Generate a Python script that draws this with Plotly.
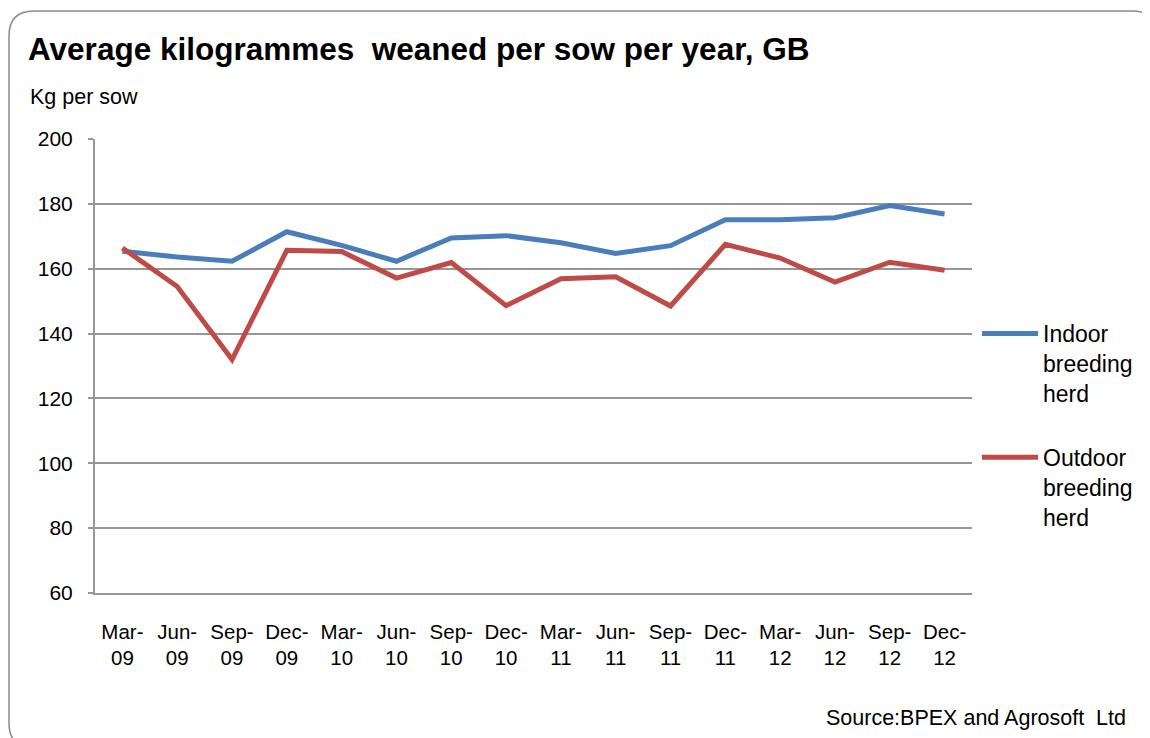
import plotly.graph_objects as go

categories = ["Mar-<br>09", "Jun-<br>09", "Sep-<br>09", "Dec-<br>09",
              "Mar-<br>10", "Jun-<br>10", "Sep-<br>10", "Dec-<br>10",
              "Mar-<br>11", "Jun-<br>11", "Sep-<br>11", "Dec-<br>11",
              "Mar-<br>12", "Jun-<br>12", "Sep-<br>12", "Dec-<br>12"]
indoor = [165.4, 163.6, 162.3, 171.4, 167.2, 162.3, 169.5, 170.2,
          168.0, 164.7, 167.1, 175.1, 175.1, 175.7, 179.5, 176.9]
outdoor = [166.4, 154.5, 132.0, 165.7, 165.3, 157.1, 161.9, 148.6,
           156.9, 157.5, 148.5, 167.5, 163.3, 155.9, 162.0, 159.5]
y_ticks = [60, 80, 100, 120, 140, 160, 180, 200]

W, H = 1150, 738
OFF = 8  # page body margin offset
# plot area in page pixels (target)
PL, PR, PT, PB = 95, 972, 139, 593
ML, MT = PL - OFF, PT - OFF
MR, MB = W - (PR - OFF), H - (PB - OFF)
PW, PH = PR - PL, PB - PT
FONT = "Liberation Sans, Arial, sans-serif"
GRAY = "#969696"


def px(x):
    """page x pixel -> paper fraction"""
    return (x - PL) / PW


def py(y):
    """page y pixel -> paper fraction"""
    return (PB - y) / PH


fig = go.Figure()
fig.add_trace(go.Scatter(x=categories, y=indoor, mode="lines",
                         name="Indoor<br>breeding<br>herd",
                         line=dict(color="#4A7EBB", width=5),
                         legendgroup="a"))
fig.add_trace(go.Scatter(x=categories, y=outdoor, mode="lines",
                         name="Outdoor<br>breeding<br>herd",
                         line=dict(color="#BE4B48", width=5),
                         legendgroup="b"))

# rounded outer frame (page pixels)
x0, x1, y0, y1, r = 9, 1157, 11, 748, 25
path = (f"M{px(x0)},{py(y0 + r)} "
        f"Q{px(x0)},{py(y0)} {px(x0 + r)},{py(y0)} "
        f"L{px(x1 - r)},{py(y0)} "
        f"Q{px(x1)},{py(y0)} {px(x1)},{py(y0 + r)} "
        f"L{px(x1)},{py(y1 - r)} "
        f"Q{px(x1)},{py(y1)} {px(x1 - r)},{py(y1)} "
        f"L{px(x0 + r)},{py(y1)} "
        f"Q{px(x0)},{py(y1)} {px(x0)},{py(y1 - r)} Z")
fig.add_shape(type="path", path=path, xref="paper", yref="paper",
              line=dict(color="#8a8a8a", width=1.5), layer="below")

fig.update_layout(
    width=W, height=H,
    margin=dict(l=ML, r=MR, t=MT, b=MB),
    paper_bgcolor="white", plot_bgcolor="white",
    font=dict(family=FONT, color="black", size=20),
    title=dict(text="<b>Average kilogrammes  weaned per sow per year, GB</b>",
               xref="container", yref="container",
               x=(28 - OFF) / W, y=1 - (49 - OFF) / H,
               xanchor="left", yanchor="middle",
               font=dict(family=FONT, size=31.5, color="black")),
    showlegend=True,
    legend=dict(x=px(977), y=py(312), xanchor="left", yanchor="top",
                valign="top", traceorder="grouped", tracegroupgap=31,
                itemwidth=56, font=dict(family=FONT, size=23, color="black"),
                bgcolor="rgba(0,0,0,0)"),
    xaxis=dict(type="category", range=[-0.5, 15.5], showgrid=False,
               showline=True, linecolor=GRAY, linewidth=2, ticks="",
               tickfont=dict(size=20.5), ticklabelstandoff=19),
    yaxis=dict(range=[60, 200], tickvals=y_ticks, showgrid=True,
               gridcolor=GRAY, gridwidth=2, showline=True,
               linecolor=GRAY, linewidth=2, ticks="outside", ticklen=5,
               tickcolor=GRAY, tickwidth=2, tickfont=dict(size=21),
               ticklabelstandoff=11, zeroline=False),
    annotations=[
        dict(text="Kg per sow", xref="paper", yref="paper",
             x=px(28), y=py(97), xanchor="left", yanchor="middle",
             showarrow=False, font=dict(family=FONT, size=21.5)),
        dict(text="Source:BPEX and Agrosoft  Ltd", xref="paper", yref="paper",
             x=px(1128), y=py(718), xanchor="right", yanchor="middle",
             showarrow=False, font=dict(family=FONT, size=21.5)),
    ],
)

fig.write_html("out.html")
